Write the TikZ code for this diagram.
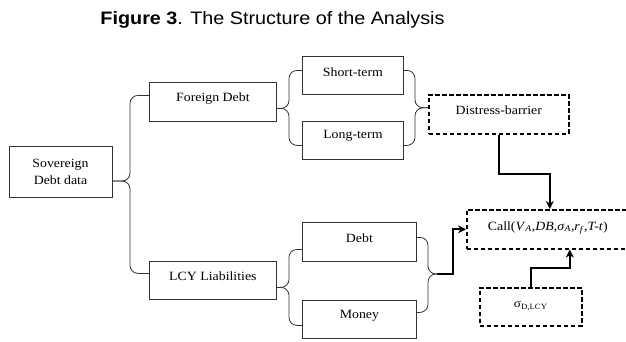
\documentclass[tikz,border=0pt]{standalone}
\usepackage{fontspec}
\setmainfont[FakeStretch=1.1]{Liberation Serif}
\newfontfamily\titlefont[FakeStretch=1.1]{Liberation Sans}
\usetikzlibrary{arrows.meta}
\begin{document}
\begin{tikzpicture}[x=1pt,y=-1pt,
  box/.style={draw=black!80, line width=0.8pt, anchor=north west, inner xsep=0pt, inner ysep=0pt, font=\fontsize{12.6}{17}\selectfont},
  dbox/.style={box, draw=black, line width=1.6pt, dash pattern=on 4.5pt off 2.5pt},
  brace/.style={draw=black!80, line width=0.8pt, rounded corners=8pt},
  flow/.style={draw=black, line width=2.2pt, -{Stealth[length=8pt,width=8pt,inset=2.5pt]}},
]
\path[use as bounding box, clip] (0,0) rectangle (626,341);

\node[font=\titlefont\fontsize{18}{20}\selectfont] (title) at (272.5,20) {\textbf{Figure 3}. The Structure of the Analysis};

\node[box, anchor=center, minimum width=103pt, minimum height=51pt, align=center] (sov) at (60.5,171.5) {Sovereign\\Debt data};
\node[box, minimum width=127pt, text height=19.2pt, text depth=19.8pt] (fd) at (149,82) {Foreign Debt};
\node[box, minimum width=127pt, text height=19.2pt, text depth=18.8pt] (lcy) at (149,261) {LCY Liabilities};
\node[box, minimum width=101pt, text height=20pt, text depth=18pt] (st) at (302,56) {Short-term};
\node[box, minimum width=101pt, text height=17.5pt, text depth=20.5pt] (lt) at (302,121) {Long-term};
\node[box, minimum width=114pt, text height=20pt, text depth=19pt] (debt) at (302,222) {Debt};
\node[box, minimum width=114pt, text height=18.2pt, text depth=19.8pt] (money) at (302,300) {Money};
\node[dbox, minimum width=140pt, text height=19.2pt, text depth=19.8pt] (db) at (428,94) {Distress-barrier};
\node[dbox, minimum width=162pt, text height=20.2pt, text depth=18.8pt] (call) at (466,209) {Call(\textit{V}\textsubscript{\textit{A}},\textit{DB},\textit{σ}\textsubscript{\textit{A}},\textit{r}\textsubscript{\textit{f}},\textit{T-t})};
\node[dbox, minimum width=102pt, text height=19.5pt, text depth=18.5pt] (sig) at (479,287) {\fontsize{12}{14}\selectfont σ\textsubscript{D,LCY}};

\coordinate (tipE) at (437,274);

% braces
\draw[brace] ([yshift=-9.5pt]sov.east) -| ([xshift=-19pt,yshift=6.5pt]fd.west) -- ([yshift=6.5pt]fd.west);
\draw[brace] ([yshift=-9.5pt]sov.east) -| ([xshift=-19pt,yshift=7pt]lcy.west) -- ([yshift=7pt]lcy.west);
\draw[brace] ([yshift=-6.5pt]fd.east) -| ([xshift=-13pt,yshift=5pt]st.west) -- ([yshift=5pt]st.west);
\draw[brace] ([yshift=-6.5pt]fd.east) -| ([xshift=-13pt,yshift=-5pt]lt.west) -- ([yshift=-5pt]lt.west);
\draw[brace] ([yshift=5pt]st.east) -| ([xshift=-13pt,yshift=6.5pt]db.west) -- ([yshift=6.5pt]db.west);
\draw[brace] ([yshift=-5pt]lt.east) -| ([xshift=-13pt,yshift=6.5pt]db.west) -- ([yshift=6.5pt]db.west);
\draw[brace] ([yshift=-7pt]lcy.east) -| ([xshift=-13pt,yshift=-7.5pt]debt.west) -- ([yshift=-7.5pt]debt.west);
\draw[brace] ([yshift=-7pt]lcy.east) -| ([xshift=-13pt,yshift=-6pt]money.west) -- ([yshift=-6pt]money.west);
\draw[brace] ([yshift=4.5pt]debt.east) -| ([xshift=-9pt]tipE) -- (tipE);
\draw[brace] ([yshift=7pt]money.east) -| ([xshift=-9pt]tipE) -- (tipE);

% flows
\draw[flow] (tipE) -- ++(16,0) |- (call.west);
\draw[flow] (db.south) -- ++(0,39) -| ([xshift=2pt]call.north);
\draw[flow] (sig.north) -- ++(0,-19) -| ([xshift=22pt]call.south);
\end{tikzpicture}
\end{document}
